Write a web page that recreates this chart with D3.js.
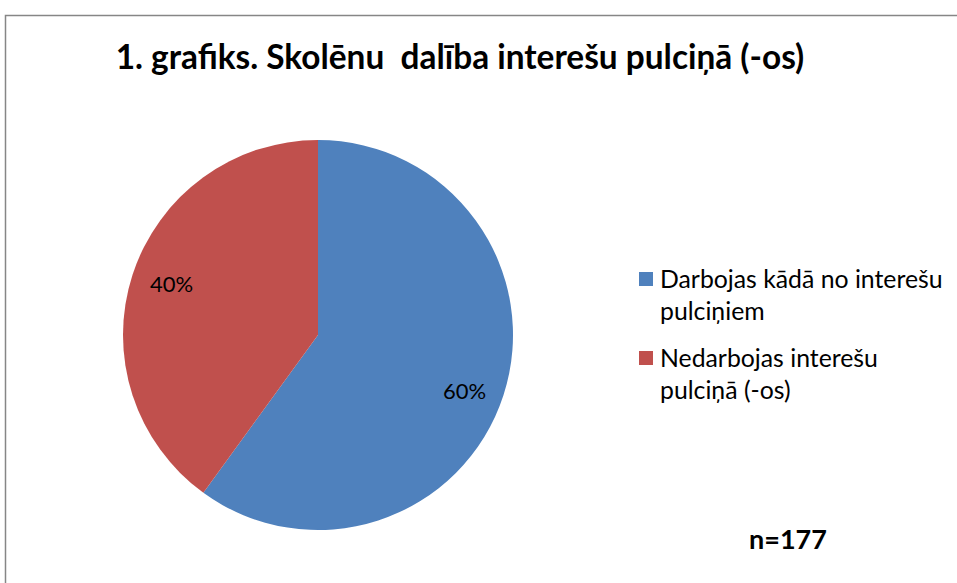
<!DOCTYPE html>
<html><head><meta charset="utf-8">
<script src="https://cdn.jsdelivr.net/npm/d3@7/dist/d3.min.js"></script>
<style>body{margin:0;background:#fff}svg{display:block}</style>
</head><body>
<script>
const categories = ["Darbojas kādā no interešu pulciņiem", "Nedarbojas interešu pulciņā (-os)"];
const legendLines = [["Darbojas kādā no interešu", "pulciņiem"], ["Nedarbojas interešu", "pulciņā (-os)"]];
const values = [60, 40];
const colors = ["#4F81BD", "#C0504D"];
const title = "1. grafiks. Skolēnu  dalība interešu pulciņā (-os)";
const note = "n=177";

const W = 957, H = 583;
const svg = d3.select("body").append("svg").attr("width", W).attr("height", H);
const font = "Lato, 'Open Sans', sans-serif";

svg.append("rect").attr("x", 5.5).attr("y", 15.5).attr("width", W + 10).attr("height", H + 10)
  .attr("fill", "#fff").attr("stroke", "#868686").attr("stroke-width", 1.5);

svg.append("text").attr("x", 460).attr("y", 69).attr("text-anchor", "middle")
  .attr("font-family", font).attr("font-weight", "bold").attr("font-size", 33.4)
  .attr("fill", "#000").style("white-space", "pre").text(title);

const cx = 318, cy = 335, r = 195;
const pie = d3.pie().sort(null).value(d => d)(values);
const arc = d3.arc().innerRadius(0).outerRadius(r);
const g = svg.append("g").attr("transform", `translate(${cx},${cy})`);
g.selectAll("path").data(pie).join("path").attr("d", arc).attr("fill", (d, i) => colors[i]);

const total = d3.sum(values);
const labelArc = d3.arc().innerRadius(r * 0.79).outerRadius(r * 0.79);
g.selectAll("text.lab").data(pie).join("text").attr("class", "lab")
  .attr("transform", d => `translate(${labelArc.centroid(d)})`)
  .attr("text-anchor", "middle").attr("dy", (d, i) => i === 0 ? "0.75em" : "0.2em")
  .attr("font-family", font).attr("font-size", 22).attr("fill", "#000")
  .text(d => Math.round(d.data / total * 100) + "%");

const lg = svg.append("g");
const ly = [279, 358];
categories.forEach((c, i) => {
  lg.append("rect").attr("x", 639).attr("y", ly[i] - 7).attr("width", 14).attr("height", 14).attr("fill", colors[i]);
  legendLines[i].forEach((t, j) => {
    lg.append("text").attr("x", 660).attr("y", ly[i] + j * 32).attr("dy", "0.35em")
      .attr("font-family", font).attr("font-size", 24.8).attr("fill", "#000").text(t);
  });
});

svg.append("text").attr("x", 788).attr("y", 549).attr("text-anchor", "middle")
  .attr("font-family", font).attr("font-weight", "bold").attr("font-size", 27).attr("fill", "#000").text(note);
</script>
</body></html>
